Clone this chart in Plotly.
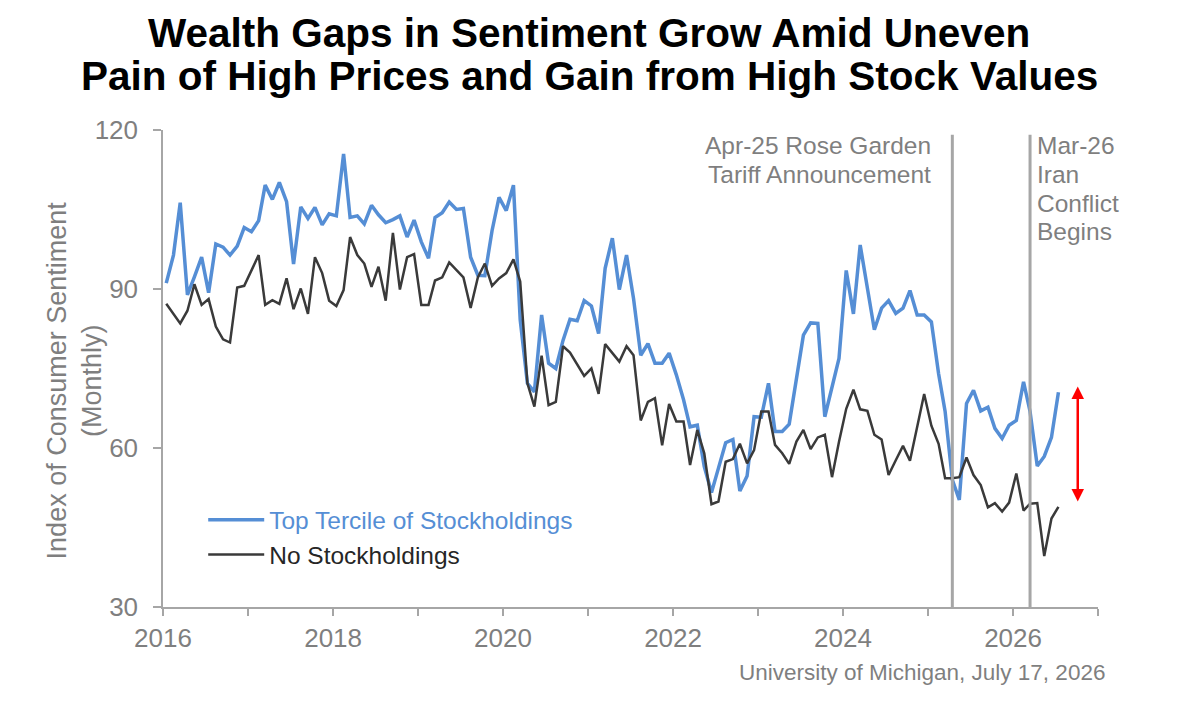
import pandas as pd
import plotly.graph_objects as go

# ---- data (monthly, Jan 2016 .. Jul 2026) ----
months = (pd.date_range(start="2016-01-01", periods=127, freq="MS") + pd.Timedelta(days=14)).strftime("%Y-%m-%d").tolist()

top_tercile = [
    91.1, 96.4, 106.3, 88.9, 92.3, 96.0, 89.3, 98.5, 97.9, 96.4, 98.1, 101.6,
    100.8, 102.9, 109.6, 106.9, 110.1, 106.5, 94.7, 105.5, 103.3, 105.4, 102.1, 104.2,
    103.8, 115.5, 103.5, 103.8, 102.3, 105.8, 104.0, 102.5, 103.1, 103.8, 99.8, 103.0,
    98.9, 95.8, 103.5, 104.4, 106.4, 105.0, 105.2, 96.0, 92.6, 92.5, 101.0, 107.3,
    104.8, 109.6, 84.2, 72.2, 70.6, 85.1, 76.0, 75.0, 80.3, 84.3, 84.0, 87.8,
    86.8, 81.6, 93.9, 99.6, 89.9, 96.4, 88.2, 77.5, 79.7, 76.0, 76.0, 77.9,
    73.8, 69.1, 64.0, 64.3, 56.5, 51.6, 56.2, 61.0, 61.6, 51.9, 54.7, 65.9,
    65.8, 72.2, 63.1, 63.1, 64.5, 73.0, 81.3, 83.6, 83.5, 65.9, 71.6, 76.9,
    93.5, 85.3, 98.3, 90.4, 82.3, 86.4, 87.8, 85.4, 86.4, 89.7, 85.1, 85.1,
    83.8, 74.0, 66.9, 54.0, 50.2, 68.4, 70.9, 67.0, 67.7, 63.7, 61.8, 64.3,
    65.2, 72.5, 66.9, 56.6, 58.4, 62.0, 70.5,
]

no_stock = [
    87.2, 85.3, 83.5, 85.9, 90.9, 87.0, 88.1, 82.9, 80.5, 79.9, 90.3, 90.6,
    93.6, 96.4, 87.0, 87.9, 87.2, 92.0, 86.2, 90.1, 85.3, 96.0, 93.0, 87.8,
    86.8, 89.8, 99.8, 96.4, 94.8, 90.4, 94.2, 87.8, 100.6, 89.9, 96.0, 96.6,
    87.0, 87.0, 91.6, 92.2, 95.0, 93.5, 92.2, 86.4, 92.2, 94.8, 90.6, 92.0,
    93.0, 95.6, 91.4, 72.2, 67.8, 77.4, 68.1, 68.7, 79.2, 78.0, 75.7, 73.6,
    75.0, 70.2, 79.6, 78.0, 76.3, 79.2, 77.5, 65.2, 68.7, 69.4, 60.5, 68.3,
    65.0, 65.0, 56.8, 63.4, 59.0, 49.4, 49.9, 57.4, 57.9, 60.8, 57.1, 59.6,
    66.9, 66.9, 60.6, 59.0, 57.0, 61.2, 63.4, 59.8, 62.0, 62.5, 54.5, 61.2,
    67.4, 71.0, 67.3, 67.0, 62.5, 61.6, 54.9, 57.7, 60.4, 57.6, 64.0, 70.2,
    64.2, 60.8, 54.3, 54.3, 54.5, 58.2, 54.9, 53.0, 48.8, 49.6, 48.0, 49.7,
    55.2, 48.2, 49.5, 49.6, 39.6, 46.7, 48.9,
]

series_names = ["Top Tercile of Stockholdings", "No Stockholdings"]
year_ticks = [f"{y}-01-01" for y in range(2016, 2028)]
year_labels = [str(y) if y % 2 == 0 else "" for y in range(2016, 2028)]
y_ticks = [30, 60, 90, 120]

event1_date = "2025-04-15"
event1_lines = ["Apr-25 Rose Garden", "Tariff Announcement"]
event2_date = "2026-03-15"
event2_lines = ["Mar-26", "Iran", "Conflict", "Begins"]

gap_arrow_date = "2026-10-06"
gap_arrow_top = 71.6
gap_arrow_bottom = 49.6

title_lines = ["Wealth Gaps in Sentiment Grow Amid Uneven",
               "Pain of High Prices and Gain from High Stock Values"]
y_title_text = "Index of Consumer Sentiment<br>(Monthly)"
source_text = "University of Michigan, July 17, 2026"

# ---- styling ----
FONT = "Arial, 'Liberation Sans', sans-serif"
BLUE = "#558ED5"
DARK = "#3a3a3a"
GRAY_TXT = "#7f7f7f"
AXIS = "#a6a6a6"

fig = go.Figure()
fig.add_trace(go.Scatter(
    x=months, y=top_tercile, mode="lines",
    name=f"<span style='color:{BLUE}'>{series_names[0]}</span>",
    line=dict(color=BLUE, width=3.5),
))
fig.add_trace(go.Scatter(
    x=months, y=no_stock, mode="lines",
    name=f"<span style='color:#262626'>{series_names[1]}</span>",
    line=dict(color=DARK, width=2.5),
))

# event vertical lines
for d in (event1_date, event2_date):
    fig.add_shape(type="line", xref="x", yref="y", x0=d, x1=d, y0=30, y1=119.1,
                  line=dict(color=AXIS, width=3))

annotations = []
# title lines
for txt, yp in zip(title_lines, [1.2044, 1.1122]):
    annotations.append(dict(text=txt, xref="paper", yref="paper", x=0.4561, y=yp,
                            xanchor="center", yanchor="middle", showarrow=False,
                            font=dict(family=FONT, size=40.5, color="black", weight="bold")))
# event labels
for txt, yp in zip(event1_lines, [0.9671, 0.9063]):
    annotations.append(dict(text=txt, xref="x", yref="paper", x=event1_date, y=yp,
                            xanchor="right", yanchor="middle", xshift=-19, showarrow=False,
                            font=dict(family=FONT, size=24.5, color=GRAY_TXT)))
for txt, yp in zip(event2_lines, [0.9671, 0.9063, 0.8468, 0.7868]):
    annotations.append(dict(text=txt, xref="x", yref="paper", x=event2_date, y=yp,
                            xanchor="left", yanchor="middle", xshift=5, showarrow=False,
                            font=dict(family=FONT, size=24.5, color=GRAY_TXT)))
# y axis title
annotations.append(dict(text=y_title_text, xref="paper", yref="paper", x=-0.0947, y=0.476,
                        xanchor="center", yanchor="middle", textangle=-90, showarrow=False,
                        font=dict(family=FONT, size=27, color=GRAY_TXT)))
# source
annotations.append(dict(text=source_text, xref="paper", yref="paper", x=1.0096, y=-0.1363,
                        xanchor="right", yanchor="middle", showarrow=False,
                        font=dict(family=FONT, size=22.5, color=GRAY_TXT)))
# red gap arrow
annotations.append(dict(text="", x=gap_arrow_date, y=gap_arrow_top, xref="x", yref="y",
                        ax=gap_arrow_date, ay=gap_arrow_bottom, axref="x", ayref="y",
                        showarrow=True, arrowside="end+start", arrowhead=2, startarrowhead=2,
                        arrowsize=1, startarrowsize=1, arrowwidth=2.5, arrowcolor="#ff0000",
                        standoff=0, startstandoff=0))

fig.update_layout(
    width=1179, height=708,
    margin=dict(l=163, r=81, t=130, b=101),
    paper_bgcolor="white", plot_bgcolor="white",
    font=dict(family=FONT, color=GRAY_TXT),
    showlegend=True,
    legend=dict(x=0.043, y=0.230, xanchor="left", yanchor="top",
                bgcolor="rgba(0,0,0,0)", font=dict(family=FONT, size=24.5),
                itemwidth=56, tracegroupgap=0),
    annotations=annotations,
    xaxis=dict(type="date", range=["2016-01-01", "2027-01-01"],
               tickmode="array", tickvals=year_ticks, ticktext=year_labels,
               ticks="outside", ticklen=7, tickcolor=AXIS, tickwidth=1.5,
               showline=True, linecolor=AXIS, linewidth=1.5, showgrid=False, zeroline=False,
               tickfont=dict(family=FONT, size=26, color=GRAY_TXT)),
    yaxis=dict(range=[30, 120], tickmode="array", tickvals=y_ticks,
               ticks="outside", ticklen=8, tickcolor=AXIS, tickwidth=1.5,
               ticklabelstandoff=10,
               showline=True, linecolor=AXIS, linewidth=1.5, showgrid=False, zeroline=False,
               tickfont=dict(family=FONT, size=26, color=GRAY_TXT)),
)

fig.write_html("out.html")
